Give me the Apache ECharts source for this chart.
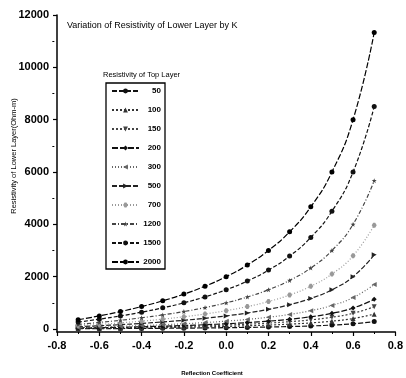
<!DOCTYPE html>
<html>
<head>
<meta charset="utf-8">
<script src="https://cdn.jsdelivr.net/npm/echarts@6/dist/echarts.min.js"></script>
<style>
  html, body { margin: 0; padding: 0; background: #fff; }
  #main { width: 406px; height: 378px; }
</style>
</head>
<body>
<div id="main"></div>
<script>
var myChart = echarts.init(document.getElementById('main'));

// reflection coefficient K
var kValues = [-0.7, -0.6, -0.5, -0.4, -0.3, -0.2, -0.1, 0.0, 0.1, 0.2, 0.3, 0.4, 0.5, 0.6, 0.7];

// resistivity of lower layer, one list per top layer resistivity
var names = ['50', '100', '150', '200', '300', '500', '700', '1200', '1500', '2000'];
var r50 = [9, 13, 17, 21, 27, 33, 41, 50, 61, 75, 93, 117, 150, 200, 283];
var r100 = [18, 25, 33, 43, 54, 67, 82, 100, 122, 150, 186, 233, 300, 400, 567];
var r150 = [26, 38, 50, 64, 81, 100, 123, 150, 183, 225, 279, 350, 450, 600, 850];
var r200 = [35, 50, 67, 86, 108, 133, 164, 200, 244, 300, 371, 467, 600, 800, 1133];
var r300 = [53, 75, 100, 129, 162, 200, 245, 300, 367, 450, 557, 700, 900, 1200, 1700];
var r500 = [88, 125, 167, 214, 269, 333, 409, 500, 611, 750, 929, 1167, 1500, 2000, 2833];
var r700 = [124, 175, 233, 300, 377, 467, 573, 700, 856, 1050, 1300, 1633, 2100, 2800, 3967];
var r1200 = [176, 250, 333, 429, 538, 667, 818, 1000, 1222, 1500, 1857, 2333, 3000, 4000, 5667];
var r1500 = [265, 375, 500, 643, 808, 1000, 1227, 1500, 1833, 2250, 2786, 3500, 4500, 6000, 8500];
var r2000 = [353, 500, 667, 857, 1077, 1333, 1636, 2000, 2444, 3000, 3714, 4667, 6000, 8000, 11333];
var allValues = [r50, r100, r150, r200, r300, r500, r700, r1200, r1500, r2000];

// y ticks: labelled ones and the small ones between
var yTicks = [0, 2000, 4000, 6000, 8000, 10000, 12000];
var yMinorTicks = [1000, 3000, 5000, 7000, 9000, 11000];

// marker and line look of each curve
var triDown = 'path://M0,0 L10,0 L5,10 Z';
var triLeft = 'path://M10,0 L10,10 L0,5 Z';
var triRight = 'path://M0,0 L0,10 L10,5 Z';
var hexagon = 'path://M3,0 L7,0 L10,5 L7,10 L3,10 L0,5 Z';
var star = 'path://M5,0 L6.2,3.6 L10,3.8 L7,6.1 L8.1,10 L5,7.7 L1.9,10 L3,6.1 L0,3.8 L3.8,3.6 Z';
var looks = [
    { symbol: 'circle', dash: [5, 2], color: '#111' },
    { symbol: 'triangle', dash: [2, 2], color: '#333' },
    { symbol: triDown, dash: [2, 2], color: '#444' },
    { symbol: 'diamond', dash: [6, 2], color: '#111' },
    { symbol: triLeft, dash: [1, 2], color: '#666' },
    { symbol: triRight, dash: [5, 2], color: '#222' },
    { symbol: hexagon, dash: [1, 2], color: '#999' },
    { symbol: star, dash: [4, 2, 1, 2], color: '#444' },
    { symbol: 'circle', dash: [4, 2], color: '#111' },
    { symbol: 'circle', dash: [6, 2], color: '#000' }
];

var series = [];
for (var i = 0; i < names.length; i++) {
    var pts = [];
    for (var j = 0; j < kValues.length; j++) {
        pts.push([kValues[j], allValues[i][j]]);
    }
    series.push({
        name: names[i],
        type: 'line',
        data: pts,
        smooth: true,
        symbol: looks[i].symbol,
        symbolSize: 5,
        itemStyle: { color: looks[i].color },
        lineStyle: { color: looks[i].color, width: 1.2, type: looks[i].dash },
        emphasis: { disabled: true },
        z: 2 + i
    });
}

var font = 'Liberation Sans, Arial, sans-serif';

option = {
    animation: false,
    backgroundColor: '#fff',
    grid: { left: 57, right: 8, top: 15, bottom: 46 },
    xAxis: {
        type: 'value',
        min: -0.8,
        max: 0.8,
        interval: 0.2,
        axisLine: { onZero: false, lineStyle: { color: '#000', width: 1.5 } },
        axisTick: { length: 4, lineStyle: { color: '#000', width: 1.2 } },
        minorTick: { show: true, splitNumber: 2, length: 2, lineStyle: { color: '#000' } },
        splitLine: { show: false },
        axisLabel: {
            margin: 8, color: '#000', fontSize: 11, fontFamily: font, fontWeight: 'bold',
            formatter: function (v) { return v.toFixed(1); }
        }
    },
    yAxis: [
        {
            type: 'value',
            min: -115,
            max: 12000,
            axisLine: { show: true, onZero: false, lineStyle: { color: '#000', width: 1.5 } },
            axisTick: { show: true, length: 4, customValues: yTicks, lineStyle: { color: '#000', width: 1.2 } },
            splitLine: { show: false },
            axisLabel: {
                margin: 8, color: '#000', fontSize: 11, fontFamily: font, fontWeight: 'bold',
                customValues: yTicks,
                formatter: function (v) { return String(v); }
            }
        },
        {
            // only carries the small ticks between the labelled ones
            type: 'value',
            min: -115,
            max: 12000,
            position: 'right',
            offset: -341,
            axisLine: { show: false, onZero: false },
            axisTick: { show: true, inside: true, length: 2, customValues: yMinorTicks, lineStyle: { color: '#000' } },
            axisLabel: { show: false },
            splitLine: { show: false }
        }
    ],
    legend: {
        orient: 'vertical',
        left: 106,
        top: 83,
        padding: [4, 4, 3, 5],
        itemGap: 11,
        itemWidth: 27,
        itemHeight: 6,
        borderColor: '#000',
        borderWidth: 1.3,
        data: names,
        formatter: '{a|{name}}',
        textStyle: {
            color: '#000',
            fontFamily: font,
            fontSize: 8,
            fontWeight: 'bold',
            rich: { a: { width: 17, align: 'right', fontSize: 8, fontWeight: 'bold', lineHeight: 10 } }
        }
    },
    graphic: [
        {
            type: 'text', left: 67, top: 21,
            style: { text: 'Variation of Resistivity of Lower Layer by K', fontSize: 9, fontFamily: font, fill: '#000' }
        },
        {
            type: 'text', left: 103, top: 71,
            style: { text: 'Resistivity of Top Layer', fontSize: 7.5, fontFamily: font, fill: '#000' }
        },
        {
            type: 'text', x: 14, y: 156, rotation: Math.PI / 2,
            style: {
                text: 'Resistivity of Lower Layer(Ohm-m)', fontSize: 7.5, fontFamily: font, fill: '#000',
                align: 'center', verticalAlign: 'middle'
            }
        },
        {
            type: 'text', x: 212, y: 373,
            style: {
                text: 'Reflection Coefficient', fontSize: 6, fontFamily: font, fill: '#000', fontWeight: 'bold',
                align: 'center', verticalAlign: 'middle'
            }
        }
    ],
    series: series
};

if (option && typeof option === "object") {
    myChart.setOption(option, true);
}
</script>
</body>
</html>
